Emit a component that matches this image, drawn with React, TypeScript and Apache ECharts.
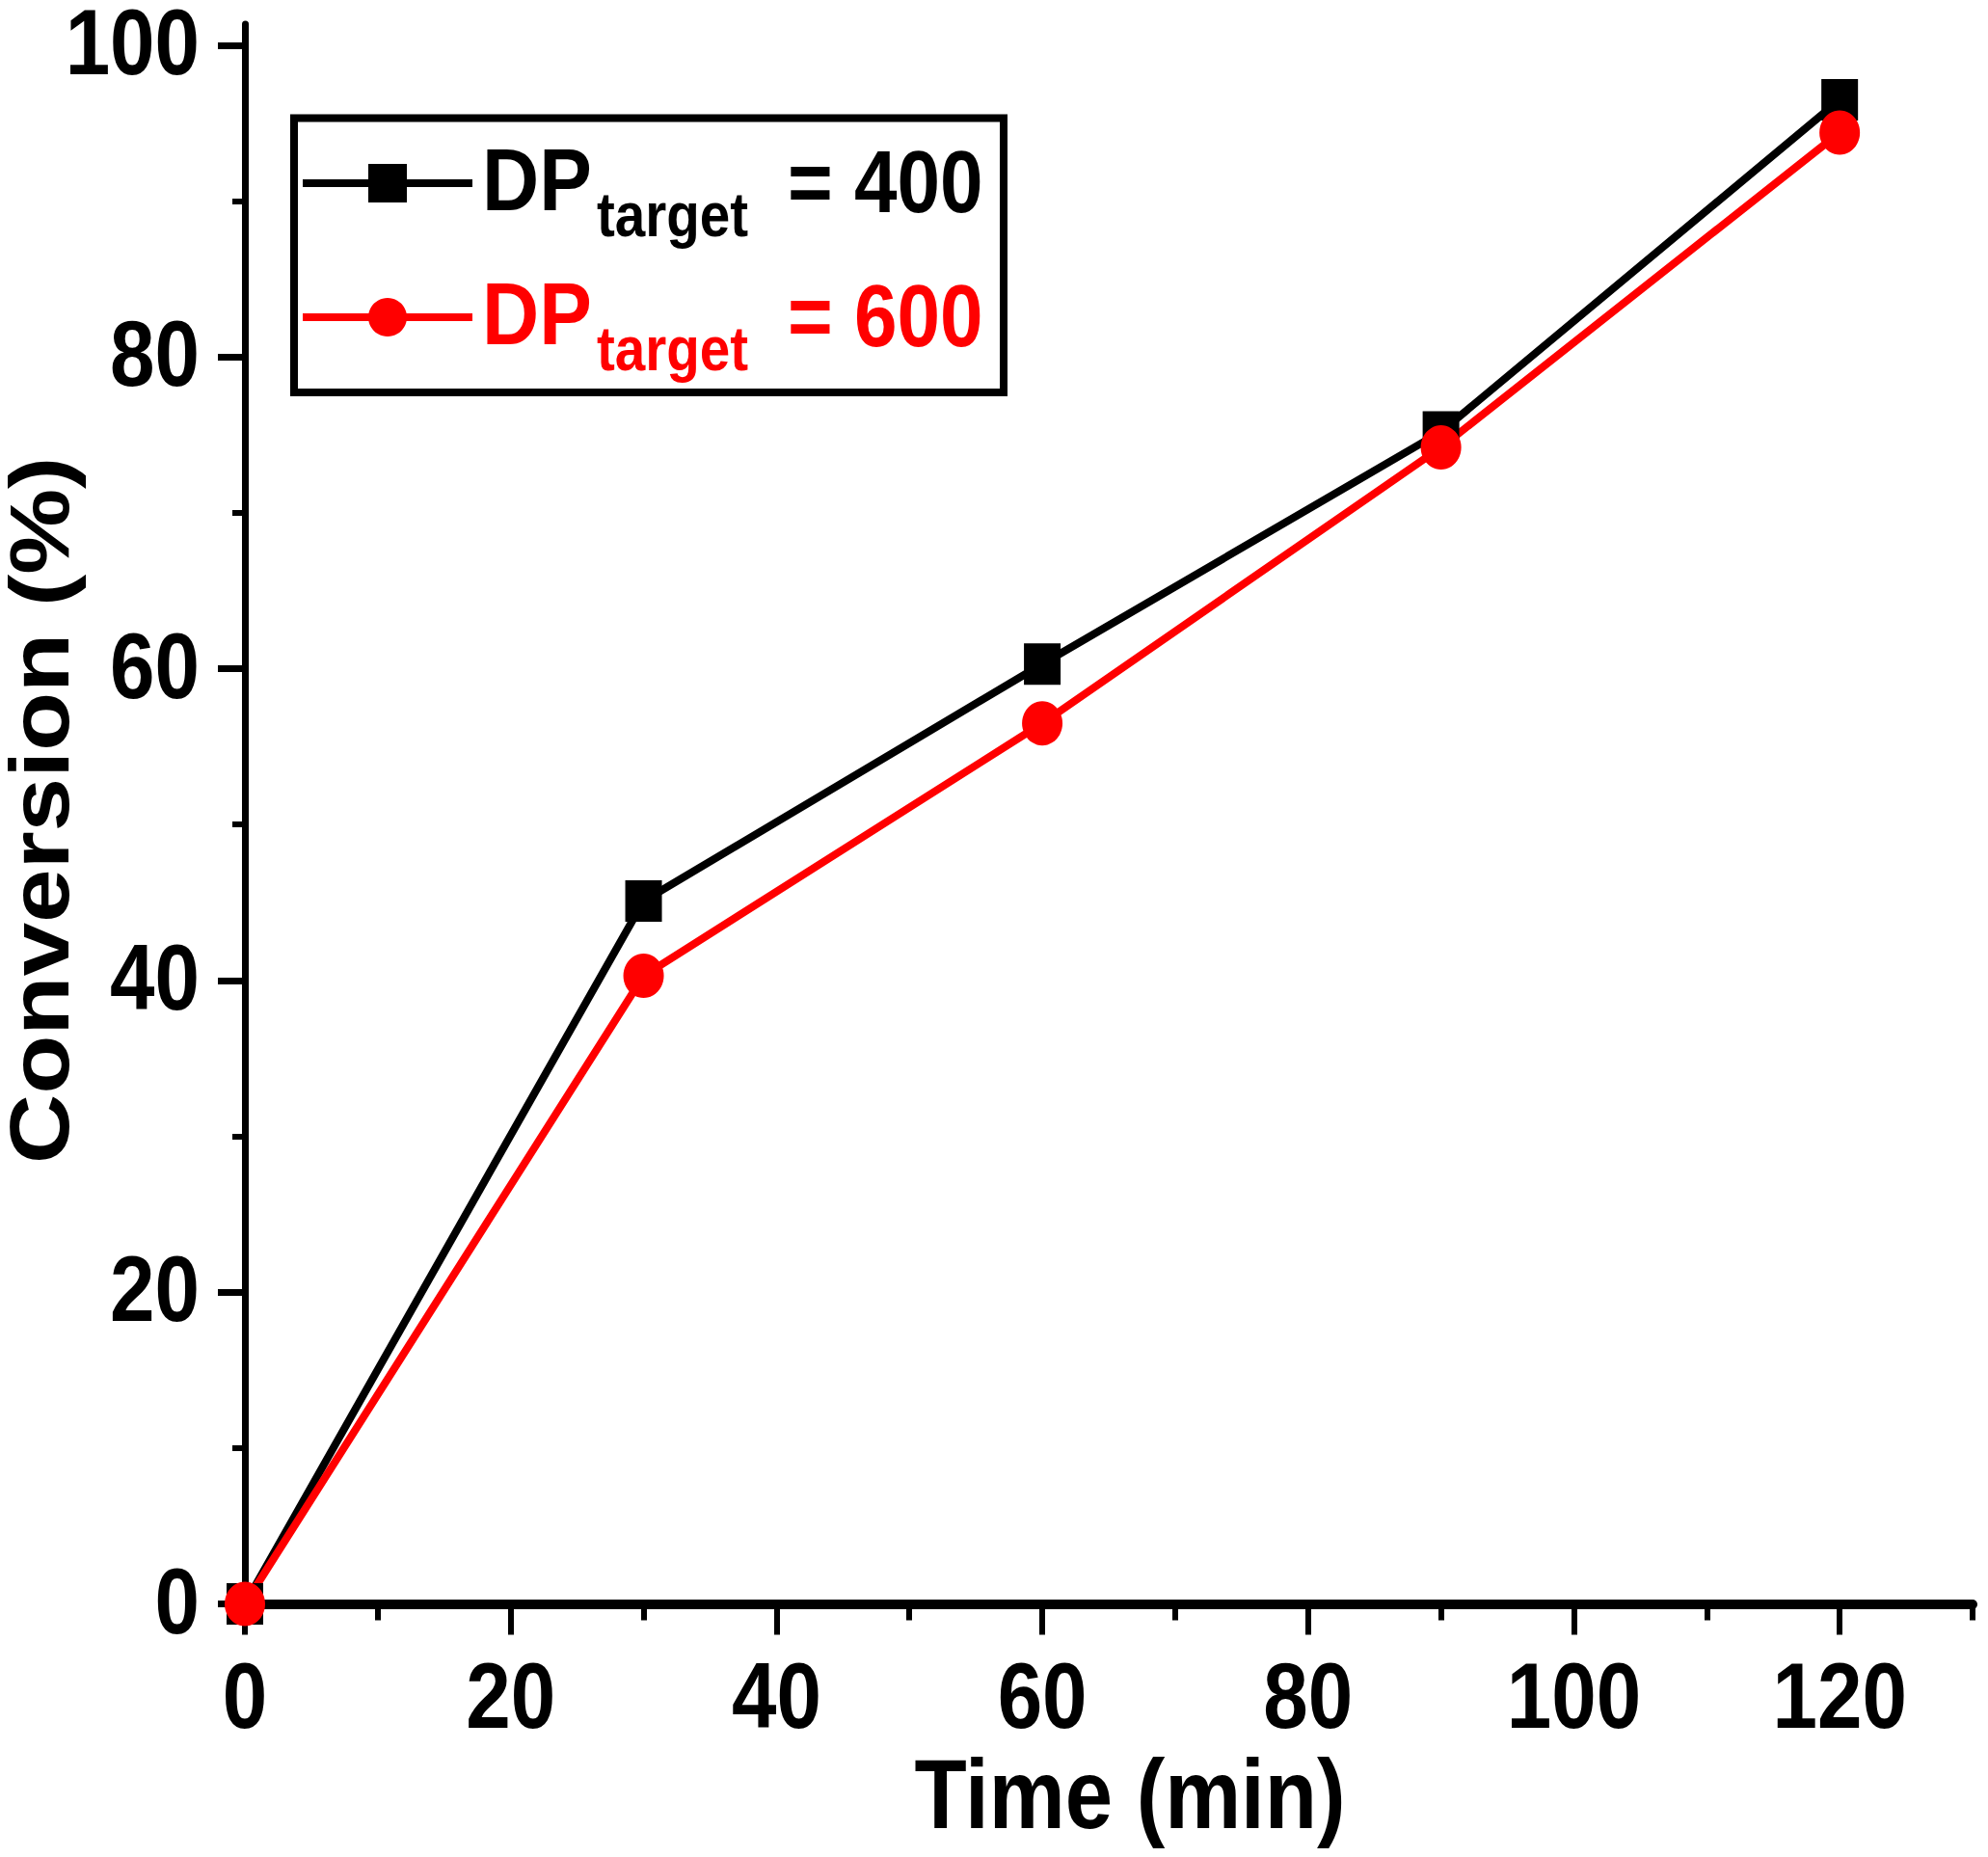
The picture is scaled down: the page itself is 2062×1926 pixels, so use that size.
import React, { useEffect, useRef } from "react";
import * as echarts from "echarts";

// ---- data ----
const timeMin = [0, 30, 60, 90, 120];
const conv400 = [0, 45.1, 60.3, 75.2, 96.5];
const conv600 = [0, 40.3, 56.5, 74.2, 94.4];
const seriesNames = ["DP400", "DP600"];
const legendValues = ["400", "600"];
const xTickLabels = [0, 20, 40, 60, 80, 100, 120];
const xMinorTicks = [0, 10, 20, 30, 40, 50, 60, 70, 80, 90, 100, 110, 120, 130];
const yTickLabels = [0, 20, 40, 60, 80, 100];
const yMinorTicks = [0, 10, 20, 30, 40, 50, 60, 70, 80, 90, 100];
const xTitle = "Time (min)";
const yTitle = "Conversion (%)";
const xMax = 130;
const yMax = 101.36;

const FONT = "'Liberation Sans', Arial, Helvetica, sans-serif";
const RED = "#ff0000";
const BLACK = "#000000";
const SQUEEZE = 0.87; // the reference's text is horizontally condensed

export default function App() {
  const ref = useRef<HTMLDivElement | null>(null);

  useEffect(() => {
    document.body.style.margin = "0";
    if (!ref.current) return;
    const chart = echarts.init(ref.current, undefined, { renderer: "svg" });

    const option: any = {
      animation: false,
      backgroundColor: "#ffffff",
      grid: { left: 254, right: 16, top: 25, bottom: 262.5, containLabel: false, outerBoundsMode: "none" },
      legend: {
        orient: "vertical",
        left: 305,
        top: 122.5,
        padding: [42.5, 547, 58, 5],
        itemGap: 94,
        itemWidth: 176,
        itemHeight: 50,
        borderColor: BLACK,
        borderWidth: 8,
        selectedMode: false,
        data: seriesNames,
        formatter: () => "",
        lineStyle: { width: 8 },
      },
      xAxis: [
        {
          type: "value",
          position: "bottom",
          min: 0,
          max: xMax,
          interval: 20,
          axisLine: { show: true, onZero: false, lineStyle: { color: BLACK, width: 10 } },
          axisTick: { show: true, inside: false, length: 32, lineStyle: { color: BLACK, width: 6 }, customValues: xTickLabels },
          axisLabel: { show: false },
          splitLine: { show: false },
        },
        {
          type: "value",
          position: "bottom",
          min: 0,
          max: xMax,
          interval: 10,
          axisLine: { show: false, onZero: false },
          axisTick: { show: true, inside: false, length: 17, lineStyle: { color: BLACK, width: 6 }, customValues: xMinorTicks },
          axisLabel: { show: false },
          splitLine: { show: false },
        },
      ],
      yAxis: [
        {
          type: "value",
          position: "left",
          min: 0,
          max: yMax,
          interval: 20,
          axisLine: { show: true, onZero: false, lineStyle: { color: BLACK, width: 7 } },
          axisTick: { show: true, inside: false, length: 28, lineStyle: { color: BLACK, width: 7 }, customValues: yTickLabels },
          axisLabel: { show: false },
          splitLine: { show: false },
        },
        {
          type: "value",
          position: "left",
          min: 0,
          max: yMax,
          interval: 10,
          axisLine: { show: false, onZero: false },
          axisTick: { show: true, inside: false, length: 13, lineStyle: { color: BLACK, width: 6 }, customValues: yMinorTicks },
          axisLabel: { show: false },
          splitLine: { show: false },
        },
      ],
      series: [
        {
          name: seriesNames[0],
          type: "line",
          xAxisIndex: 0,
          yAxisIndex: 0,
          data: timeMin.map((t, i) => [t, conv400[i]]),
          symbol: "rect",
          symbolSize: [38, 43],
          showAllSymbol: true,
          lineStyle: { color: BLACK, width: 8 },
          itemStyle: { color: BLACK },
          emphasis: { disabled: true },
        },
        {
          name: seriesNames[1],
          type: "line",
          xAxisIndex: 0,
          yAxisIndex: 0,
          data: timeMin.map((t, i) => [t, conv600[i]]),
          symbol: "circle",
          symbolSize: [42, 46],
          showAllSymbol: true,
          lineStyle: { color: RED, width: 8 },
          itemStyle: { color: RED },
          emphasis: { disabled: true },
        },
      ],
    };

    chart.setOption(option);

    // Texts, placed through the chart's own axes (convertToPixel), condensed horizontally like the reference
    const px = (v: number) => chart.convertToPixel({ xAxisIndex: 0 }, v) as number;
    const py = (v: number) => chart.convertToPixel({ yAxisIndex: 0 }, v) as number;
    const axisY0 = py(0);
    const axisX0 = px(0);

    const txt = (
      id: string,
      text: string,
      x: number,
      y: number,
      size: number,
      color: string,
      align: string,
      vAlign: string,
      extra: any = {},
      lineHeight?: number
    ) => ({
      type: "text",
      id,
      x,
      y,
      scaleX: SQUEEZE,
      silent: true,
      z: 100,
      style: {
        text,
        fill: color,
        fontSize: size,
        fontWeight: "bold",
        fontFamily: FONT,
        align,
        verticalAlign: vAlign,
        ...(lineHeight ? { lineHeight } : {}),
      },
      ...extra,
    });

    const graphics: any[] = [];
    xTickLabels.forEach((v) => {
      graphics.push(txt("xl" + v, String(v), px(v), axisY0 + 47, 96, BLACK, "center", "top"));
    });
    yTickLabels.forEach((v) => {
      graphics.push(txt("yl" + v, String(v), axisX0 - 47, py(v) - 3, 96, BLACK, "right", "middle", {}, 76));
    });
    // axis titles
    graphics.push(txt("xt", xTitle, 1172, axisY0 + 145.5, 102, BLACK, "center", "top"));
    graphics.push(
      txt(
        "yt",
        yTitle,
        41,
        (py(0) + py(yMax)) / 2 - 4,
        100,
        BLACK,
        "center",
        "middle",
        { rotation: Math.PI / 2, scaleX: 1, scaleY: SQUEEZE },
        84
      )
    );
    // legend labels (DP with subscript "target")
    const rows = [
      { color: BLACK, dy: 0, val: legendValues[0] },
      { color: RED, dy: 139, val: legendValues[1] },
    ];
    rows.forEach((r, i) => {
      graphics.push(txt("lgdp" + i, "DP", 500, 186.5 + r.dy, 91, r.color, "left", "middle", { scaleX: 0.9 }));
      graphics.push(txt("lgsub" + i, "target", 619, 222.5 + r.dy, 65, r.color, "left", "middle"));
      graphics.push(txt("lgeq" + i, "= " + r.val, 817, 188.5 + r.dy, 91, r.color, "left", "middle", { scaleX: 0.88 }));
    });

    chart.setOption({ graphic: graphics });

    return () => {
      chart.dispose();
    };
  }, []);

  return <div ref={ref} style={{ width: "2062px", height: "1926px" }} />;
}
